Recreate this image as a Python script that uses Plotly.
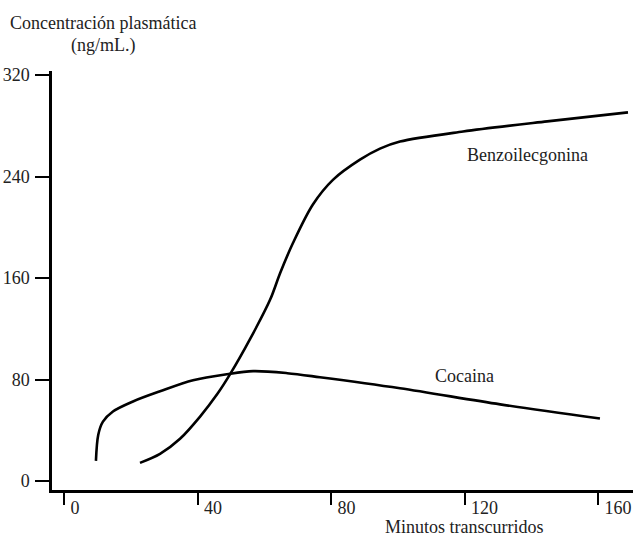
import plotly.graph_objects as go

# Data (minutes, ng/mL)
coca_x = [9.5, 10.2, 11.6, 14.6, 20.6, 28.7, 38.6, 48.8, 56.6, 66.8, 76.6, 100.6, 130.6, 160.5]
coca_y = [15.9, 36.5, 46.8, 54.8, 62.7, 70.7, 79.4, 84.2, 86.6, 85.0, 81.8, 73.1, 60.4, 49.2]

benzo_x = [22.7, 28.7, 34.7, 40.7, 45.8, 49.7, 55.7, 61.7, 64.7, 68.6, 74.5, 80.5, 88.6, 94.6, 100.6, 119.5, 144.7, 168.9]
benzo_y = [14.3, 21.4, 33.3, 50.8, 68.3, 84.2, 112.0, 143.0, 164.0, 188.0, 218.0, 237.4, 253.3, 262.0, 267.6, 275.5, 283.5, 290.6]

x_ticks = [0, 40, 80, 120, 160]
y_ticks = [0, 80, 160, 240, 320]

FONT = "Liberation Serif"
TXT = "#222222"
FS = 18

fig = go.Figure()
fig.add_trace(go.Scatter(x=coca_x, y=coca_y, mode="lines", name="Cocaina",
                         line=dict(color="black", width=2.6, shape="spline", smoothing=0.9)))
fig.add_trace(go.Scatter(x=benzo_x, y=benzo_y, mode="lines", name="Benzoilecgonina",
                         line=dict(color="black", width=2.6, shape="spline", smoothing=0.9)))

fig.update_layout(
    width=635, height=538,
    margin=dict(l=52, r=2, t=71, b=48, autoexpand=False),
    paper_bgcolor="white", plot_bgcolor="white",
    showlegend=False,
    font=dict(family=FONT, size=FS, color=TXT),
)
fig.update_xaxes(range=[-3.66, 170.4], tickvals=x_ticks, ticktext=[str(v) for v in x_ticks],
                 automargin=False,
                 showgrid=False, zeroline=False, showline=True, linecolor="black", linewidth=2.5,
                 ticks="outside", ticklen=12, tickwidth=2, tickcolor="black",
                 ticklabelposition="outside right", ticklabelshift=4, ticklabelstandoff=0,
                 tickfont=dict(family=FONT, size=FS, color=TXT))
fig.update_yaxes(range=[-7.1, 323.2], tickvals=y_ticks, ticktext=[str(v) for v in y_ticks],
                 automargin=False,
                 showgrid=False, zeroline=False, showline=True, linecolor="black", linewidth=2.5,
                 ticks="outside", ticklen=14, tickwidth=2, tickcolor="black",
                 ticklabelstandoff=2,
                 tickfont=dict(family=FONT, size=FS, color=TXT))

fig.add_annotation(x=138.7, y=257, xref="x", yref="y", text="Benzoilecgonina",
                   showarrow=False, font=dict(family=FONT, size=FS, color=TXT))
fig.add_annotation(x=119.8, y=82.8, xref="x", yref="y", text="Cocaina",
                   showarrow=False, font=dict(family=FONT, size=FS, color=TXT))

fig.add_annotation(x=0.0878, y=1.1146, xref="paper", yref="paper", text="Concentración plasmática",
                   showarrow=False, xanchor="center", yanchor="middle",
                   font=dict(family=FONT, size=FS, color=TXT))
fig.add_annotation(x=0.0878, y=1.0597, xref="paper", yref="paper", text="(ng/mL.)",
                   showarrow=False, xanchor="center", yanchor="middle",
                   font=dict(family=FONT, size=FS, color=TXT))
fig.add_annotation(x=0.709, y=-0.0883, xref="paper", yref="paper", text="Minutos transcurridos",
                   showarrow=False, xanchor="center", yanchor="middle",
                   font=dict(family=FONT, size=FS, color=TXT))

fig.write_html("out.html", config={"displayModeBar": False},
               post_script="document.body.style.margin='0';")
